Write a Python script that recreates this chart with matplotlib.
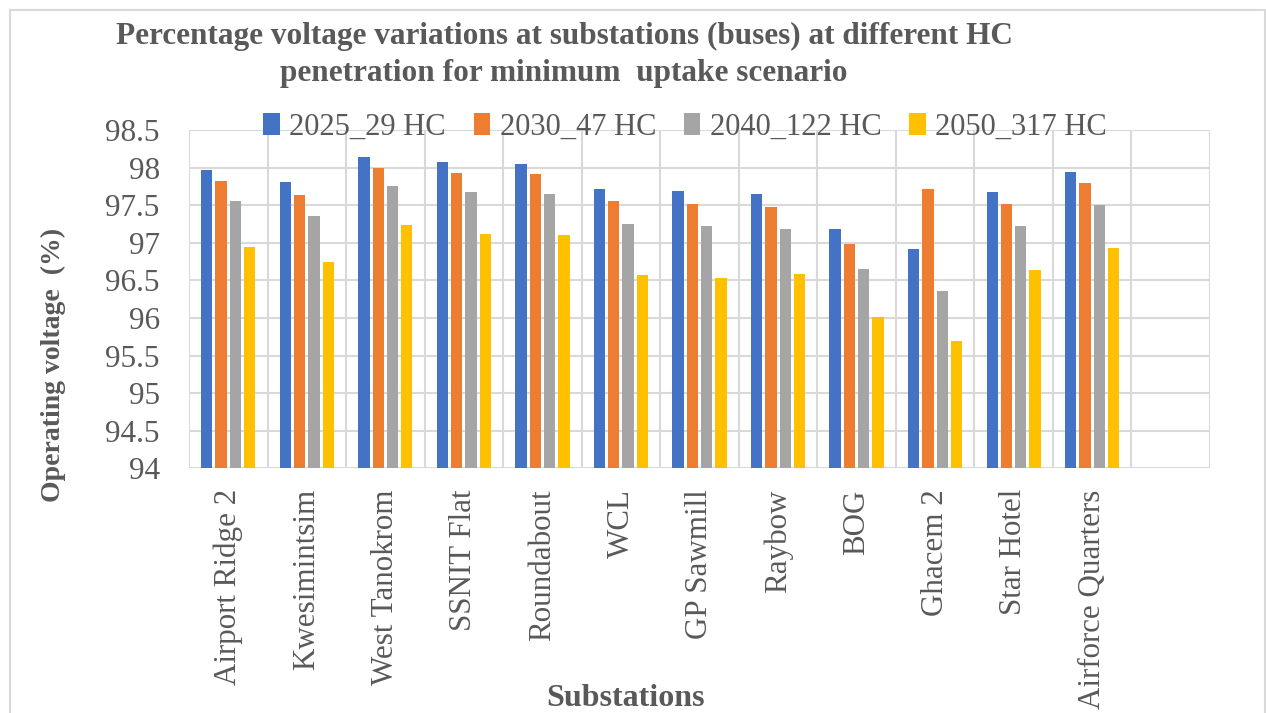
import numpy as np
import matplotlib
matplotlib.use("Agg")
import matplotlib.pyplot as plt
from matplotlib.patches import Rectangle

substations = ["Airport Ridge 2", "Kwesimintsim", "West Tanokrom", "SSNIT Flat",
               "Roundabout", "WCL", "GP Sawmill", "Raybow", "BOG", "Ghacem 2",
               "Star Hotel", "Airforce Quarters", ""]
series_names = ["2025_29 HC", "2030_47 HC", "2040_122 HC", "2050_317 HC"]
v2025 = [97.97, 97.81, 98.14, 98.07, 98.05, 97.72, 97.69, 97.65, 97.18, 96.92, 97.68, 97.94]
v2030 = [97.82, 97.63, 98.00, 97.93, 97.91, 97.56, 97.52, 97.48, 96.99, 97.71, 97.51, 97.80]
v2040 = [97.56, 97.35, 97.76, 97.67, 97.65, 97.25, 97.22, 97.18, 96.65, 96.36, 97.22, 97.50]
v2050 = [96.94, 96.74, 97.24, 97.12, 97.10, 96.57, 96.53, 96.59, 96.01, 95.69, 96.64, 96.93]
yticks = [94, 94.5, 95, 95.5, 96, 96.5, 97, 97.5, 98, 98.5]
ytick_labels = ["94", "94.5", "95", "95.5", "96", "96.5", "97", "97.5", "98", "98.5"]

colors = ["#4472C4", "#ED7D31", "#A5A5A5", "#FFC000"]
txt = "#595959"
grid = "#D9D9D9"
serif = ["Liberation Serif", "DejaVu Serif"]

fig = plt.figure(figsize=(12.66, 7.13), dpi=100)
fig.patches.append(Rectangle((10/1266, -0.1), 1255/1266, 1.1 - 10/713, transform=fig.transFigure,
                             fill=False, edgecolor=grid, linewidth=1.5))
ax = fig.add_axes([189/1266, 1 - 468.3/713, 1021/1266, 338.3/713])

all_vals = [v2025, v2030, v2040, v2050]
x = np.arange(len(substations[:-1]))
pitch = 0.182
width = 0.144
for i, vals in enumerate(all_vals):
    ax.bar(x + (i - 1.5) * pitch, np.array(vals) - 94, bottom=94, width=width,
           color=colors[i], label=series_names[i], zorder=3)

ax.set_xlim(-0.5, len(substations) - 0.5)
ax.set_ylim(94, 98.5)
ax.set_yticks(yticks)
ax.set_yticklabels(ytick_labels, fontsize=22.5, color=txt, family=serif)
ax.set_xticks(np.arange(len(substations)))
ax.set_xticklabels(substations, rotation=90, fontsize=22.3, color=txt, family=serif)
ax.tick_params(axis="y", length=0, pad=21)
ax.tick_params(axis="x", length=0, pad=15)

# gridlines: horizontal at ticks, vertical at category boundaries
for yv in yticks:
    ax.axhline(yv, color=grid, linewidth=1.5, zorder=1)
for b in np.arange(-0.5, len(substations) + 0.5, 1):
    ax.axvline(b, color=grid, linewidth=1.5, zorder=1)
for s in ax.spines.values():
    s.set_visible(False)

ax.set_ylabel("Operating voltage  (%)", fontsize=20, fontweight="bold", color=txt, family=serif)
ax.yaxis.set_label_coords(-(189 - 66) / 1021, (468.3 - 365) / 338.3)
fig.text(626/1266, 1 - 698/713, "Substations", ha="center", va="center", fontsize=23,
         fontweight="bold", color=txt, family=serif)

fig.text(564/1266, 1 - 36/713,
         "Percentage voltage variations at substations (buses) at different HC",
         ha="center", va="center", fontsize=22.5, fontweight="bold", color=txt, family=serif)
fig.text(564/1266, 1 - 74/713, "penetration for minimum  uptake scenario",
         ha="center", va="center", fontsize=22.5, fontweight="bold", color=txt, family=serif)

fig.legend(loc="center", bbox_to_anchor=(685/1266, 1 - 127/713), ncol=4, frameon=False,
           prop={"family": serif, "size": 22}, labelcolor=txt, handlelength=0.55,
           handleheight=0.7, handletextpad=0.3, columnspacing=0.9)

fig.savefig("out.png", dpi=100)
